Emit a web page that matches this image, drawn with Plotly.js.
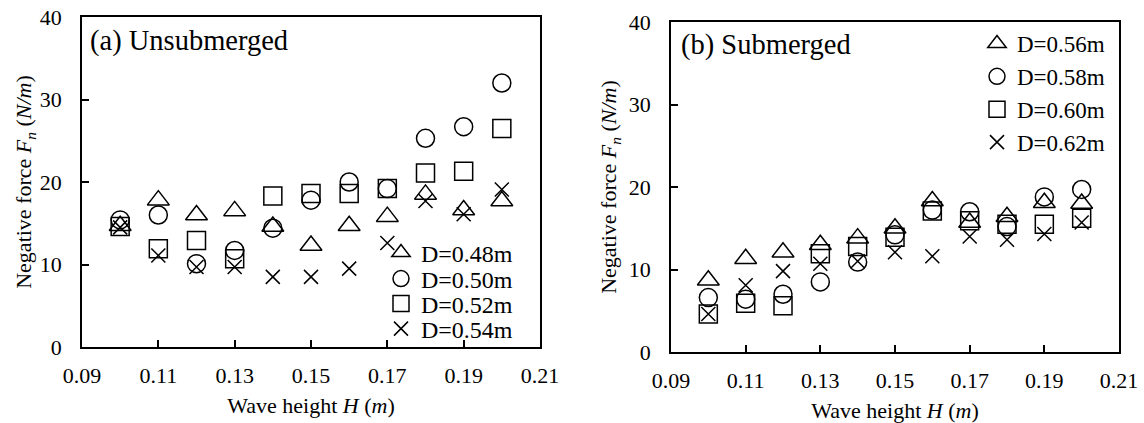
<!DOCTYPE html>
<html>
<head>
<meta charset="utf-8">
<script src="https://cdn.plot.ly/plotly-3.0.1.min.js"></script>
<style>
  html, body { margin: 0; padding: 0; background: #fff; }
  #chart { width: 1144px; height: 423px; }
</style>
</head>
<body>
<div id="chart"></div>
<script>
// Wave height H (m), shared by both panels
const waveHeight = [0.10, 0.11, 0.12, 0.13, 0.14, 0.15, 0.16, 0.17, 0.18, 0.19, 0.20];

// (a) Unsubmerged: negative force Fn (N/m) for each depth D
const unsubLabels = ['D=0.48m', 'D=0.50m', 'D=0.52m', 'D=0.54m'];
const unsubD048 = [14.7, 17.8, 16.0, 16.5, 14.6, 12.3, 14.7, 15.8, 18.5, 16.6, 17.7];
const unsubD050 = [15.4, 16.0, 10.1, 11.7, 14.4, 17.8, 20.0, 19.2, 25.3, 26.7, 32.0];
const unsubD052 = [14.6, 11.9, 12.9, 10.7, 18.3, 18.6, 18.6, 19.2, 21.1, 21.3, 26.5];
const unsubD054 = [14.5, 11.1, 9.7, 9.7, 8.5, 8.5, 9.5, 12.6, 17.7, 16.1, 19.1];

// (b) Submerged: negative force Fn (N/m) for each depth D
const subLabels = ['D=0.56m', 'D=0.58m', 'D=0.60m', 'D=0.62m'];
const subD056 = [8.7, 11.3, 12.1, 13.0, 13.8, 15.0, 18.3, 15.7, 16.4, 18.1, 18.0];
const subD058 = [6.6, 6.4, 7.0, 8.5, 10.9, 14.2, 17.2, 17.0, 15.2, 18.8, 19.7];
const subD060 = [4.6, 5.9, 5.6, 11.9, 12.8, 13.9, 17.1, 15.9, 15.5, 15.5, 16.2];
const subD062 = [4.6, 8.1, 9.8, 10.7, 11.0, 12.1, 11.6, 14.0, 13.6, 14.3, 15.7];

const FONT = '"Liberation Serif", "Times New Roman", serif';
const symbols = [
  { symbol: 'triangle-up-open', size: 19 },
  { symbol: 'circle-open', size: 18 },
  { symbol: 'square-open', size: 18 },
  { symbol: 'x-thin-open', size: 14 }
];

// Panel (a) gets one small legend per entry so its rows can sit closer
// together than a single legend allows; panel (b) shares one legend.
function series(values, label, idx, panel) {
  const s = symbols[idx];
  const two = panel === 2;
  return {
    type: 'scatter',
    mode: 'markers',
    x: waveHeight,
    y: values,
    name: label,
    showlegend: true,
    xaxis: two ? 'x2' : 'x',
    yaxis: two ? 'y2' : 'y',
    legend: two ? 'legend5' : (idx === 0 ? 'legend' : 'legend' + (idx + 1)),
    marker: {
      symbol: s.symbol,
      size: s.size,
      color: '#000',
      line: { color: '#000', width: 1.5 }
    },
    hoverinfo: 'x+y+name'
  };
}

const traces = [
  series(unsubD048, unsubLabels[0], 0, 1),
  series(unsubD050, unsubLabels[1], 1, 1),
  series(unsubD052, unsubLabels[2], 2, 1),
  series(unsubD054, unsubLabels[3], 3, 1),
  series(subD056, subLabels[0], 0, 2),
  series(subD058, subLabels[1], 1, 2),
  series(subD060, subLabels[2], 2, 2),
  series(subD062, subLabels[3], 3, 2)
];

const xTitle = 'Wave height <i>H</i> (<i>m</i>)';
const yTitle = 'Negative force <i>F</i><sub><i>n</i></sub> (<i>N/m</i>)';

function xAxis(domain, anchor) {
  return {
    domain: domain,
    anchor: anchor,
    range: [0.09, 0.21],
    tick0: 0.09,
    dtick: 0.02,
    tickformat: '.2f',
    ticks: 'inside',
    ticklen: 7,
    tickwidth: 1.5,
    tickcolor: '#000',
    ticklabelstandoff: 8,
    showgrid: false,
    zeroline: false,
    showline: true,
    mirror: true,
    linecolor: '#000',
    linewidth: 1.5,
    tickfont: { family: FONT, size: 22, color: '#000' },
    title: { text: xTitle, font: { family: FONT, size: 22, color: '#000' }, standoff: 10 }
  };
}

function yAxis(domain, anchor, standoff) {
  return {
    domain: domain,
    anchor: anchor,
    range: [0, 40],
    dtick: 10,
    ticks: 'inside',
    ticklen: 7,
    tickwidth: 1.5,
    tickcolor: '#000',
    ticklabelstandoff: 14,
    showgrid: false,
    zeroline: false,
    showline: true,
    mirror: true,
    linecolor: '#000',
    linewidth: 1.5,
    tickfont: { family: FONT, size: 22, color: '#000' },
    title: { text: yTitle, font: { family: FONT, size: 22, color: '#000' }, standoff: standoff }
  };
}

const W = 1144, H = 423;

function rowLegend(rightPx, centerPx, size) {
  return {
    x: rightPx / W, y: (H - centerPx) / H,
    xanchor: 'right', yanchor: 'middle',
    bgcolor: 'rgba(0,0,0,0)',
    borderwidth: 0,
    font: { family: FONT, size: size, color: '#000' }
  };
}

const layout = {
  width: W,
  height: H,
  margin: { l: 0, r: 0, t: 0, b: 0 },
  showlegend: true,
  paper_bgcolor: '#fff',
  plot_bgcolor: '#fff',
  font: { family: FONT, color: '#000' },
  xaxis: xAxis([82 / W, 540 / W], 'y'),
  yaxis: yAxis([(H - 347) / H, (H - 17) / H], 'x', 2),
  xaxis2: xAxis([671 / W, 1119 / W], 'y2'),
  yaxis2: yAxis([(H - 352) / H, (H - 22) / H], 'x2', 6),
  legend: rowLegend(518, 253, 24),
  legend2: rowLegend(518, 279, 24),
  legend3: rowLegend(518, 304, 24),
  legend4: rowLegend(518, 329, 24),
  legend5: {
    x: 1110 / W, y: (H - 22) / H,
    xanchor: 'right', yanchor: 'top',
    bgcolor: 'rgba(0,0,0,0)',
    borderwidth: 0,
    font: { family: FONT, size: 23, color: '#000' }
  },
  annotations: [
    {
      text: '(a) Unsubmerged',
      xref: 'paper', yref: 'paper',
      x: 88 / W, y: (H - 41) / H,
      xanchor: 'left', yanchor: 'middle',
      showarrow: false,
      font: { family: FONT, size: 28.5, color: '#000' }
    },
    {
      text: '(b) Submerged',
      xref: 'paper', yref: 'paper',
      x: 679 / W, y: (H - 45) / H,
      xanchor: 'left', yanchor: 'middle',
      showarrow: false,
      font: { family: FONT, size: 28.5, color: '#000' }
    }
  ]
};

Plotly.newPlot('chart', traces, layout, { displayModeBar: false, responsive: false });
</script>
</body>
</html>
